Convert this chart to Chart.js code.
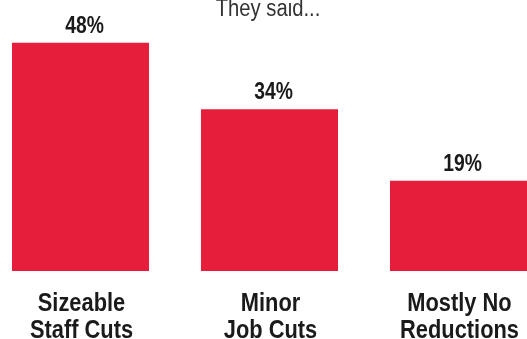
<!DOCTYPE html>
<html>
<head>
<meta charset="utf-8">
<script src="https://cdn.jsdelivr.net/npm/chart.js@4/dist/chart.umd.min.js"></script>
<style>
  html, body { margin: 0; padding: 0; background: #fff; }
  #wrap { position: relative; width: 527px; height: 339px; overflow: hidden; }
  #chart { position: absolute; left: -14px; top: 0; }
</style>
</head>
<body>
<div id="wrap"><canvas id="chart" width="567" height="339"></canvas></div>
<script>
// Survey answers and their shares (percent)
const categories = [
  ["Sizeable", "Staff Cuts"],
  ["Minor", "Job Cuts"],
  ["Mostly No", "Reductions"]
];
const shares = [48, 34, 19];
const valueLabels = ["48%", "34%", "19%"];
const heading = "They said...";

const BAR_RED = "#e61d3b";
const INK = "#1a1a1a";
const FACE = "'Liberation Sans', Arial, sans-serif";
const SQUEEZE = 0.84; // horizontal condensing for the bold labels

// Centered text, squeezed horizontally to give a condensed look
function condensedText(ctx, text, x, y, sx) {
  ctx.save();
  ctx.translate(x, y);
  ctx.scale(sx, 1);
  ctx.fillText(text, 0, 0);
  ctx.restore();
}

// Draws the heading, the value above each bar and the two-line category names
const annotate = {
  id: "annotate",
  afterDatasetsDraw(chart) {
    const ctx = chart.ctx;
    const meta = chart.getDatasetMeta(0);
    const xScale = chart.scales.x;
    const base = chart.chartArea.bottom;
    ctx.save();
    ctx.textAlign = "center";
    ctx.textBaseline = "alphabetic";

    ctx.fillStyle = "#333";
    ctx.font = "23px " + FACE;
    condensedText(ctx, heading, 282, 16, 0.88);

    ctx.fillStyle = INK;
    ctx.font = "bold 23px " + FACE;
    meta.data.forEach((bar, i) => {
      condensedText(ctx, valueLabels[i], bar.x + 4, bar.y - 10, SQUEEZE);
    });

    ctx.font = "bold 26px " + FACE;
    categories.forEach((lines, i) => {
      const x = xScale.getPixelForValue(i);
      lines.forEach((line, j) => {
        condensedText(ctx, line, x + 1, base + 40 + j * 27, SQUEEZE);
      });
    });
    ctx.restore();
  }
};

new Chart(document.getElementById("chart"), {
  type: "bar",
  data: {
    labels: categories.map(c => c.join(" ")),
    datasets: [{
      data: shares,
      backgroundColor: BAR_RED,
      borderWidth: 0,
      categoryPercentage: 1,
      barPercentage: 0.725
    }]
  },
  options: {
    responsive: false,
    animation: false,
    layout: { padding: { top: 0, bottom: 68, left: 0, right: 0 } },
    plugins: {
      legend: { display: false },
      tooltip: { enabled: false },
      title: { display: false }
    },
    scales: {
      x: { display: false, offset: true, grid: { display: false } },
      y: { display: false, min: 0, max: 57, grid: { display: false } }
    }
  },
  plugins: [annotate]
});
</script>
</body>
</html>
